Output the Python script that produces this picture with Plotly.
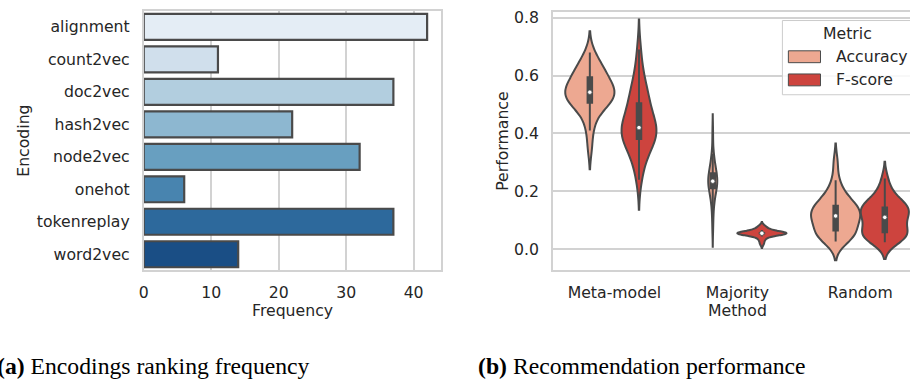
import numpy as np
import plotly.graph_objects as go

# ---------------- data ----------------
encodings = ["alignment", "count2vec", "doc2vec", "hash2vec", "node2vec", "onehot", "tokenreplay", "word2vec"]
frequency = [42, 11, 37, 22, 32, 6, 37, 14]
bar_colors = ["#e4edf5", "#d0dfec", "#b2cedf", "#8db7d0", "#689fc0", "#4884af", "#2d699c", "#1a4e85"]

methods = ["Meta-model", "Majority", "Random"]
metrics = ["Accuracy", "F-score"]
metric_colors = ["#eda891", "#cd443e"]

meta_accuracy = [0.35, 0.41, 0.44, 0.47, 0.49, 0.50, 0.50, 0.50, 0.51, 0.52, 0.53, 0.53, 0.54, 0.54, 0.54,
                 0.545, 0.55, 0.56, 0.56, 0.57, 0.58, 0.59, 0.60, 0.60, 0.61, 0.62, 0.63, 0.64, 0.66, 0.68]
meta_fscore = [0.24, 0.28, 0.31, 0.33, 0.35, 0.36, 0.37, 0.375, 0.385, 0.395, 0.40, 0.405, 0.41, 0.415, 0.42,
               0.42, 0.43, 0.44, 0.45, 0.47, 0.48, 0.50, 0.51, 0.52, 0.53, 0.55, 0.57, 0.59, 0.63, 0.69]
majority_accuracy = [0.075, 0.12, 0.15, 0.17, 0.18, 0.19, 0.20, 0.21, 0.215, 0.22, 0.225, 0.23, 0.23, 0.235,
                     0.235, 0.24, 0.24, 0.245, 0.25, 0.26, 0.265, 0.27, 0.28, 0.29, 0.30, 0.31, 0.33, 0.40]
majority_fscore = [0.018, 0.03, 0.038, 0.044, 0.048, 0.05, 0.052, 0.053, 0.054, 0.054, 0.055, 0.055, 0.055,
                   0.055, 0.056, 0.056, 0.057, 0.058, 0.06, 0.062, 0.066, 0.07, 0.075, 0.08]
random_accuracy = [0.027, 0.033, 0.04, 0.045, 0.05, 0.055, 0.058, 0.06, 0.065, 0.08, 0.095, 0.10, 0.105, 0.11,
                   0.113, 0.117, 0.12, 0.125, 0.13, 0.135, 0.14, 0.15, 0.155, 0.16, 0.165, 0.175, 0.19, 0.21,
                   0.238, 0.30]
random_fscore = [0.024, 0.03, 0.035, 0.04, 0.045, 0.05, 0.052, 0.054, 0.058, 0.065, 0.075, 0.085, 0.095, 0.10,
                 0.107, 0.113, 0.12, 0.125, 0.13, 0.135, 0.14, 0.145, 0.148, 0.152, 0.158, 0.165, 0.175, 0.19,
                 0.21, 0.244]

performance = [[meta_accuracy, meta_fscore],
               [majority_accuracy, majority_fscore],
               [random_accuracy, random_fscore]]

# ---------------- styling ----------------
W, H = 910, 381
GRAY = "#4a4a4a"
GRID = "#d2d2d2"
TXT = "#262626"
FONT = "DejaVu Sans"
FS = 15.7


def px(x):
    return x / W


def py(y):
    return 1 - y / H


def scott_kde(vals):
    v = np.asarray(vals, float)
    bw = v.std(ddof=1) * len(v) ** (-0.2)
    grid = np.linspace(v.min() - 2 * bw, v.max() + 2 * bw, 300)
    dens = np.exp(-0.5 * ((grid[:, None] - v[None, :]) / bw) ** 2).sum(1) / (len(v) * bw * np.sqrt(2 * np.pi))
    return bw, dens.max()


fig = go.Figure()

# ---------------- left: bar chart ----------------
fig.add_trace(go.Bar(
    y=encodings, x=frequency, orientation="h", width=0.8,
    marker=dict(color=bar_colors, line=dict(color=GRAY, width=2.2)),
    xaxis="x", yaxis="y", showlegend=False, hoverinfo="skip"))

# ---------------- right: violins ----------------
offsets = [-0.2, 0.2]
for i, m in enumerate(methods):
    kd = [scott_kde(s) for s in performance[i]]
    gmax = max(d for _, d in kd)
    for j, met in enumerate(metrics):
        vals = np.asarray(performance[i][j], float)
        bw, dmax = kd[j]
        pos = i + offsets[j]
        fig.add_trace(go.Violin(
            y=vals, x0=pos, width=0.4 * dmax / gmax, bandwidth=bw, spanmode="soft",
            scalemode="width", scalegroup=f"g{i}{j}", points=False,
            fillcolor=metric_colors[j], line=dict(color=GRAY, width=2), opacity=1,
            box_visible=False, meanline_visible=False, side="both",
            xaxis="x2", yaxis="y2", showlegend=False, hoverinfo="skip"))
        q25, q50, q75 = np.percentile(vals, [25, 50, 75])
        lim = 1.5 * (q75 - q25)
        lo = vals[vals >= q25 - lim].min()
        hi = vals[vals <= q75 + lim].max()
        fig.add_trace(go.Scatter(x=[pos, pos], y=[lo, hi], mode="lines",
                                 line=dict(color=GRAY, width=2), xaxis="x2", yaxis="y2",
                                 showlegend=False, hoverinfo="skip"))
        fig.add_trace(go.Scatter(x=[pos, pos], y=[q25, q75], mode="lines",
                                 line=dict(color=GRAY, width=6.5), xaxis="x2", yaxis="y2",
                                 showlegend=False, hoverinfo="skip"))
        fig.add_trace(go.Scatter(x=[pos], y=[q50], mode="markers",
                                 marker=dict(color="white", size=4.5, line=dict(color=GRAY, width=0.8)),
                                 xaxis="x2", yaxis="y2", showlegend=False, hoverinfo="skip"))

axis_common = dict(tickfont=dict(family=FONT, size=FS, color=TXT), zeroline=False,
                   ticks="outside", tickcolor="rgba(0,0,0,0)", linecolor=GRID, linewidth=1.8,
                   gridcolor=GRID, gridwidth=1.5)

fig.update_layout(
    width=W, height=H, autosize=False,
    margin=dict(l=0, r=0, t=0, b=0),
    paper_bgcolor="white", plot_bgcolor="white",
    violinmode="overlay",
    xaxis=dict(domain=[px(139.5), px(438.7)], range=[0, 44.1], tickvals=[0, 10, 20, 30, 40],
               showgrid=True, showline=True, mirror=True, ticklen=7, anchor="y", **axis_common),
    yaxis=dict(domain=[py(269.3), py(6.7)], range=[7.5, -0.5], type="category", categoryorder="array",
               categoryarray=encodings, showgrid=False, showline=True, mirror=True, ticklen=9,
               anchor="x", **axis_common),
    xaxis2=dict(domain=[px(551), 1.0], range=[-0.5, 2.405], tickvals=[0, 1, 2], ticktext=methods,
                showgrid=False, showline=True, mirror=True, ticklen=7, anchor="y2", **axis_common),
    yaxis2=dict(domain=[py(269), py(8.3)], range=[-0.0725, 0.8188], tickvals=[0, 0.2, 0.4, 0.6, 0.8],
                tickformat=".1f", showgrid=True, showline=True, mirror=False, ticklen=9,
                anchor="x2", **axis_common),
)

# axis titles
titles = [("Encoding", 18.3, 138, -90), ("Frequency", 289, 310, 0),
          ("Performance", 500, 139, -90), ("Method", 736.5, 310, 0)]
for t, x, y, ang in titles:
    fig.add_annotation(text=t, x=px(x), y=py(y), xref="paper", yref="paper", showarrow=False,
                       textangle=ang, xanchor="center", yanchor="middle",
                       font=dict(family=FONT, size=FS, color=TXT))

# legend (drawn manually to match the original box)
fig.add_shape(type="rect", xref="paper", yref="paper", x0=px(781.7), x1=px(918), y0=py(91.7), y1=py(16.7),
              line=dict(color="#cccccc", width=1), fillcolor="rgba(255,255,255,0.85)", layer="above")
fig.add_annotation(text="Metric", x=px(846.7), y=py(30), xref="paper", yref="paper", showarrow=False,
                   xanchor="center", yanchor="middle", font=dict(family=FONT, size=FS, color=TXT))
for j, (met, col) in enumerate(zip(metrics, metric_colors)):
    yc = 53.3 + j * 23.4
    fig.add_shape(type="rect", xref="paper", yref="paper", x0=px(787.7), x1=px(820),
                  y0=py(yc + 6), y1=py(yc - 6), line=dict(color=GRAY, width=1), fillcolor=col, layer="above")
    fig.add_annotation(text=met, x=px(833.3), y=py(yc), xref="paper", yref="paper", showarrow=False,
                       xanchor="left", yanchor="middle", font=dict(family=FONT, size=FS, color=TXT))

# captions
caps = [("<b>(a)</b> Encodings ranking frequency", 309, "right"),
        ("<b>(b)</b> Recommendation performance", 474, "left")]
for t, x, anc in caps:
    fig.add_annotation(text=t, x=px(x), y=py(366), xref="paper", yref="paper", showarrow=False,
                       xanchor=anc, yanchor="middle",
                       font=dict(family="Liberation Serif", size=23.7, color="black"))

fig.write_html("out.html", config={"displayModeBar": False},
               post_script="document.body.style.margin='0';document.body.style.overflow='hidden';")
